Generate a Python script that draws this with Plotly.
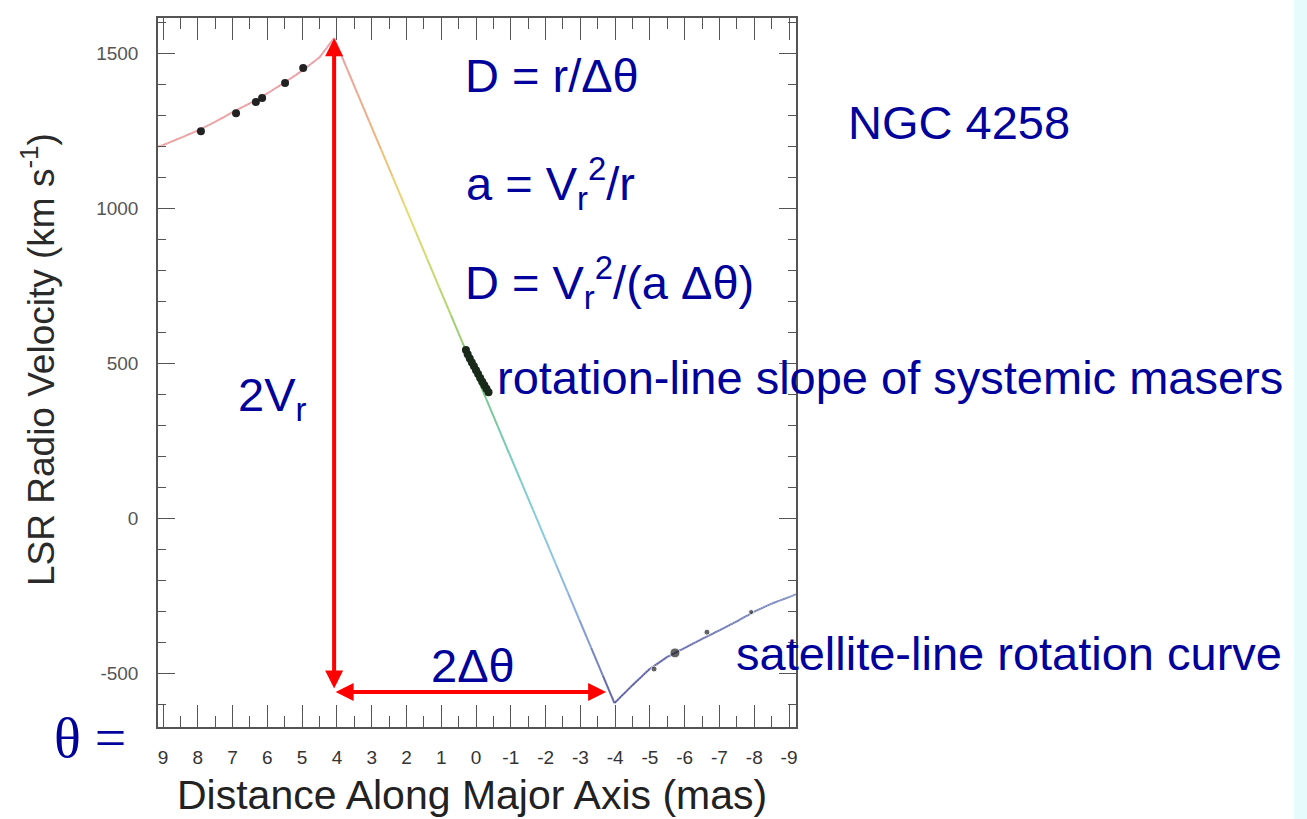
import plotly.graph_objects as go
from plotly.colors import hex_to_rgb

# ---------------- data ----------------
# rotation curve (position along major axis in mas, LSR velocity in km/s)
curve_x = [9.15, 9.0, 8.5, 8.0, 7.5, 7.0, 6.5, 6.0, 5.5, 5.0, 4.5, 4.08,
           -3.98, -4.5, -5.0, -5.5, -6.0, -6.5, -7.0, -7.5, -8.0, -8.5, -9.0, -9.2]
curve_v = [1198, 1203, 1226, 1250, 1278, 1309, 1338, 1370, 1405, 1443, 1486, 1548,
           -597, -539, -486, -448, -419, -390, -362, -333, -302, -276, -255, -246]

# high-velocity (red-shifted) maser spots
red_x = [7.91, 6.90, 6.33, 6.15, 5.49, 4.97]
red_v = [1248, 1306, 1342, 1355, 1403, 1452]

# systemic maser spots
sys_x = [0.29, 0.24, 0.18, 0.12, 0.06, 0.0, -0.06, -0.12, -0.18, -0.24, -0.30, -0.36]
sys_v = [542, 528, 515, 502, 490, 477, 465, 452, 440, 428, 417, 406]

# high-velocity (blue-shifted) maser spots
blue_x = [-5.12, -5.72, -6.64, -7.91]
blue_v = [-487, -435, -368, -303]
blue_size = [6, 10, 6, 5]

# red arrows (2V_r and 2 delta-theta)
arrow_x = [4.08, -3.74]
arrow_v = [1548, -555, -561]

x_ticks = list(range(9, -10, -1))
x_labels = [str(v) for v in x_ticks]
y_ticks = [-500, 0, 500, 1000, 1500]
y_labels = ["-500", "0", "500", "1000", "1500"]

# colour stops of the rainbow-coloured curve (position, colour)
stop_x = [9.2, 4.0, 3.0, 2.0, 1.0, 0.0, -1.0, -2.0, -3.0, -4.0, -9.2]
stop_c = ["#e8a0a0", "#e8a0a8", "#f0b080", "#e8dc70", "#bcd870", "#7cc47c",
          "#78ccc0", "#8ccce0", "#8ca8dc", "#5c5ca0", "#8090c4"]

TEXT_BLUE = "#00009b"
SANS = "Liberation Sans, Arial, sans-serif"


def colour_at(x):
    pts = list(zip(stop_x, stop_c))
    for (x0, c0), (x1, c1) in zip(pts[:-1], pts[1:]):
        if x1 <= x <= x0:
            t = (x0 - x) / (x0 - x1)
            a, b = hex_to_rgb(c0), hex_to_rgb(c1)
            return "rgb(%d,%d,%d)" % tuple(round(a[i] + (b[i] - a[i]) * t) for i in range(3))
    return stop_c[0] if x > stop_x[0] else stop_c[-1]


fig = go.Figure()

# gradient curve: every segment split into short pieces coloured by position
N = 8
for i in range(len(curve_x) - 1):
    x0, x1 = curve_x[i], curve_x[i + 1]
    v0, v1 = curve_v[i], curve_v[i + 1]
    n = N * (3 if abs(x0 - x1) > 2 else 1)
    for k in range(n):
        ta, tb = k / n, (k + 1) / n
        xa, xb = x0 + (x1 - x0) * ta, x0 + (x1 - x0) * tb
        va, vb = v0 + (v1 - v0) * ta, v0 + (v1 - v0) * tb
        fig.add_trace(go.Scatter(x=[xa, xb], y=[va, vb], mode="lines",
                                 line=dict(color=colour_at((xa + xb) / 2), width=2),
                                 hoverinfo="skip", showlegend=False))

fig.add_trace(go.Scatter(x=red_x, y=red_v, mode="markers",
                         marker=dict(color="#222222", size=8), showlegend=False))
fig.add_trace(go.Scatter(x=sys_x, y=sys_v, mode="markers",
                         marker=dict(color="#1a2a1a", size=8), showlegend=False))
fig.add_trace(go.Scatter(x=blue_x, y=blue_v, mode="markers",
                         marker=dict(color="#222222", size=blue_size), showlegend=False))

# red double arrows
fig.add_annotation(x=arrow_x[0], y=arrow_v[0], ax=arrow_x[0], ay=arrow_v[1],
                   xref="x", yref="y", axref="x", ayref="y", text="",
                   showarrow=True, arrowhead=2, arrowside="end+start",
                   arrowsize=0.9, arrowwidth=4, arrowcolor="#ff0000")
fig.add_annotation(x=arrow_x[1], y=arrow_v[2], ax=arrow_x[0], ay=arrow_v[2],
                   xref="x", yref="y", axref="x", ayref="y", text="",
                   showarrow=True, arrowhead=2, arrowside="end+start",
                   arrowsize=0.9, arrowwidth=4, arrowcolor="#ff0000")

# plot-area geometry in pixels (for placing slide text)
L, R, T, B = 158, 796, 18, 727


def px(x):
    return (x - L) / (R - L)


def py(y):
    return (B - y) / (B - T)


texts = [
    ("D = r/\u0394\u03b8", 463, 75, SANS, 47),
    ("a = V<sub>r</sub><sup>2</sup>/r", 464, 184, SANS, 47),
    ("D = V<sub>r</sub><sup>2</sup>/(a \u0394\u03b8)", 463, 282, SANS, 47),
    ("NGC 4258", 846, 122, SANS, 47),
    ("rotation-line slope of systemic masers", 495, 377, SANS, 47),
    ("2V<sub>r</sub>", 236, 398, SANS, 47),
    ("2\u0394\u03b8", 429, 665, SANS, 47),
    ("satellite-line rotation curve", 734, 653, SANS, 47),
    ("\u03b8 =", 52, 738, "Liberation Serif, Times New Roman, serif", 56),
]
for t, x, y, fam, sz in texts:
    fig.add_annotation(x=px(x), y=py(y), xref="paper", yref="paper", text=t,
                       showarrow=False, xanchor="left", yanchor="middle",
                       font=dict(family=fam, size=sz, color=TEXT_BLUE))

# axis titles
fig.add_annotation(x=px(472), y=py(819), xref="paper", yref="paper",
                   text="Distance Along Major Axis (mas)", showarrow=False,
                   xanchor="center", yanchor="bottom", borderpad=0,
                   font=dict(family=SANS, size=41, color="#222222"))
fig.add_annotation(x=px(38), y=py(360), xref="paper", yref="paper",
                   text="LSR Radio Velocity (km s<sup>-1</sup>)", showarrow=False,
                   textangle=-90, xanchor="center", yanchor="middle",
                   font=dict(family=SANS, size=37, color="#2a2a2a"))

# light cyan strip on the right edge of the slide
fig.add_shape(type="rect", xref="paper", yref="paper",
              x0=px(1294), x1=px(1310), y0=py(-5), y1=py(825),
              fillcolor="#e6fbfb", line=dict(width=0), layer="below")

axis_common = dict(showgrid=False, zeroline=False, showline=True, mirror="ticks",
                   linecolor="#555555", linewidth=1.5, ticks="inside",
                   tickcolor="#555555", tickwidth=1.2)

fig.update_xaxes(range=[9.144, -9.2], tickvals=x_ticks, ticktext=x_labels,
                 ticklen=22, ticklabelstandoff=12,
                 tickfont=dict(family=SANS, size=19, color="#333333"),
                 minor=dict(dtick=0.5, tick0=0, ticks="inside", ticklen=11,
                            tickcolor="#555555", tickwidth=1.2, showgrid=False),
                 **axis_common)
fig.update_yaxes(range=[-674, 1613], tickvals=y_ticks, ticktext=y_labels,
                 ticklen=17, ticklabelstandoff=14,
                 tickfont=dict(family=SANS, size=19, color="#555555"),
                 minor=dict(dtick=100, tick0=0, ticks="inside", ticklen=8,
                            tickcolor="#555555", tickwidth=1.2, showgrid=False),
                 **axis_common)

fig.update_layout(width=1307, height=819, autosize=False,
                  margin=dict(l=L, r=1307 - R, t=T, b=819 - B),
                  paper_bgcolor="white", plot_bgcolor="white", showlegend=False)

fig.write_html("out.html")
